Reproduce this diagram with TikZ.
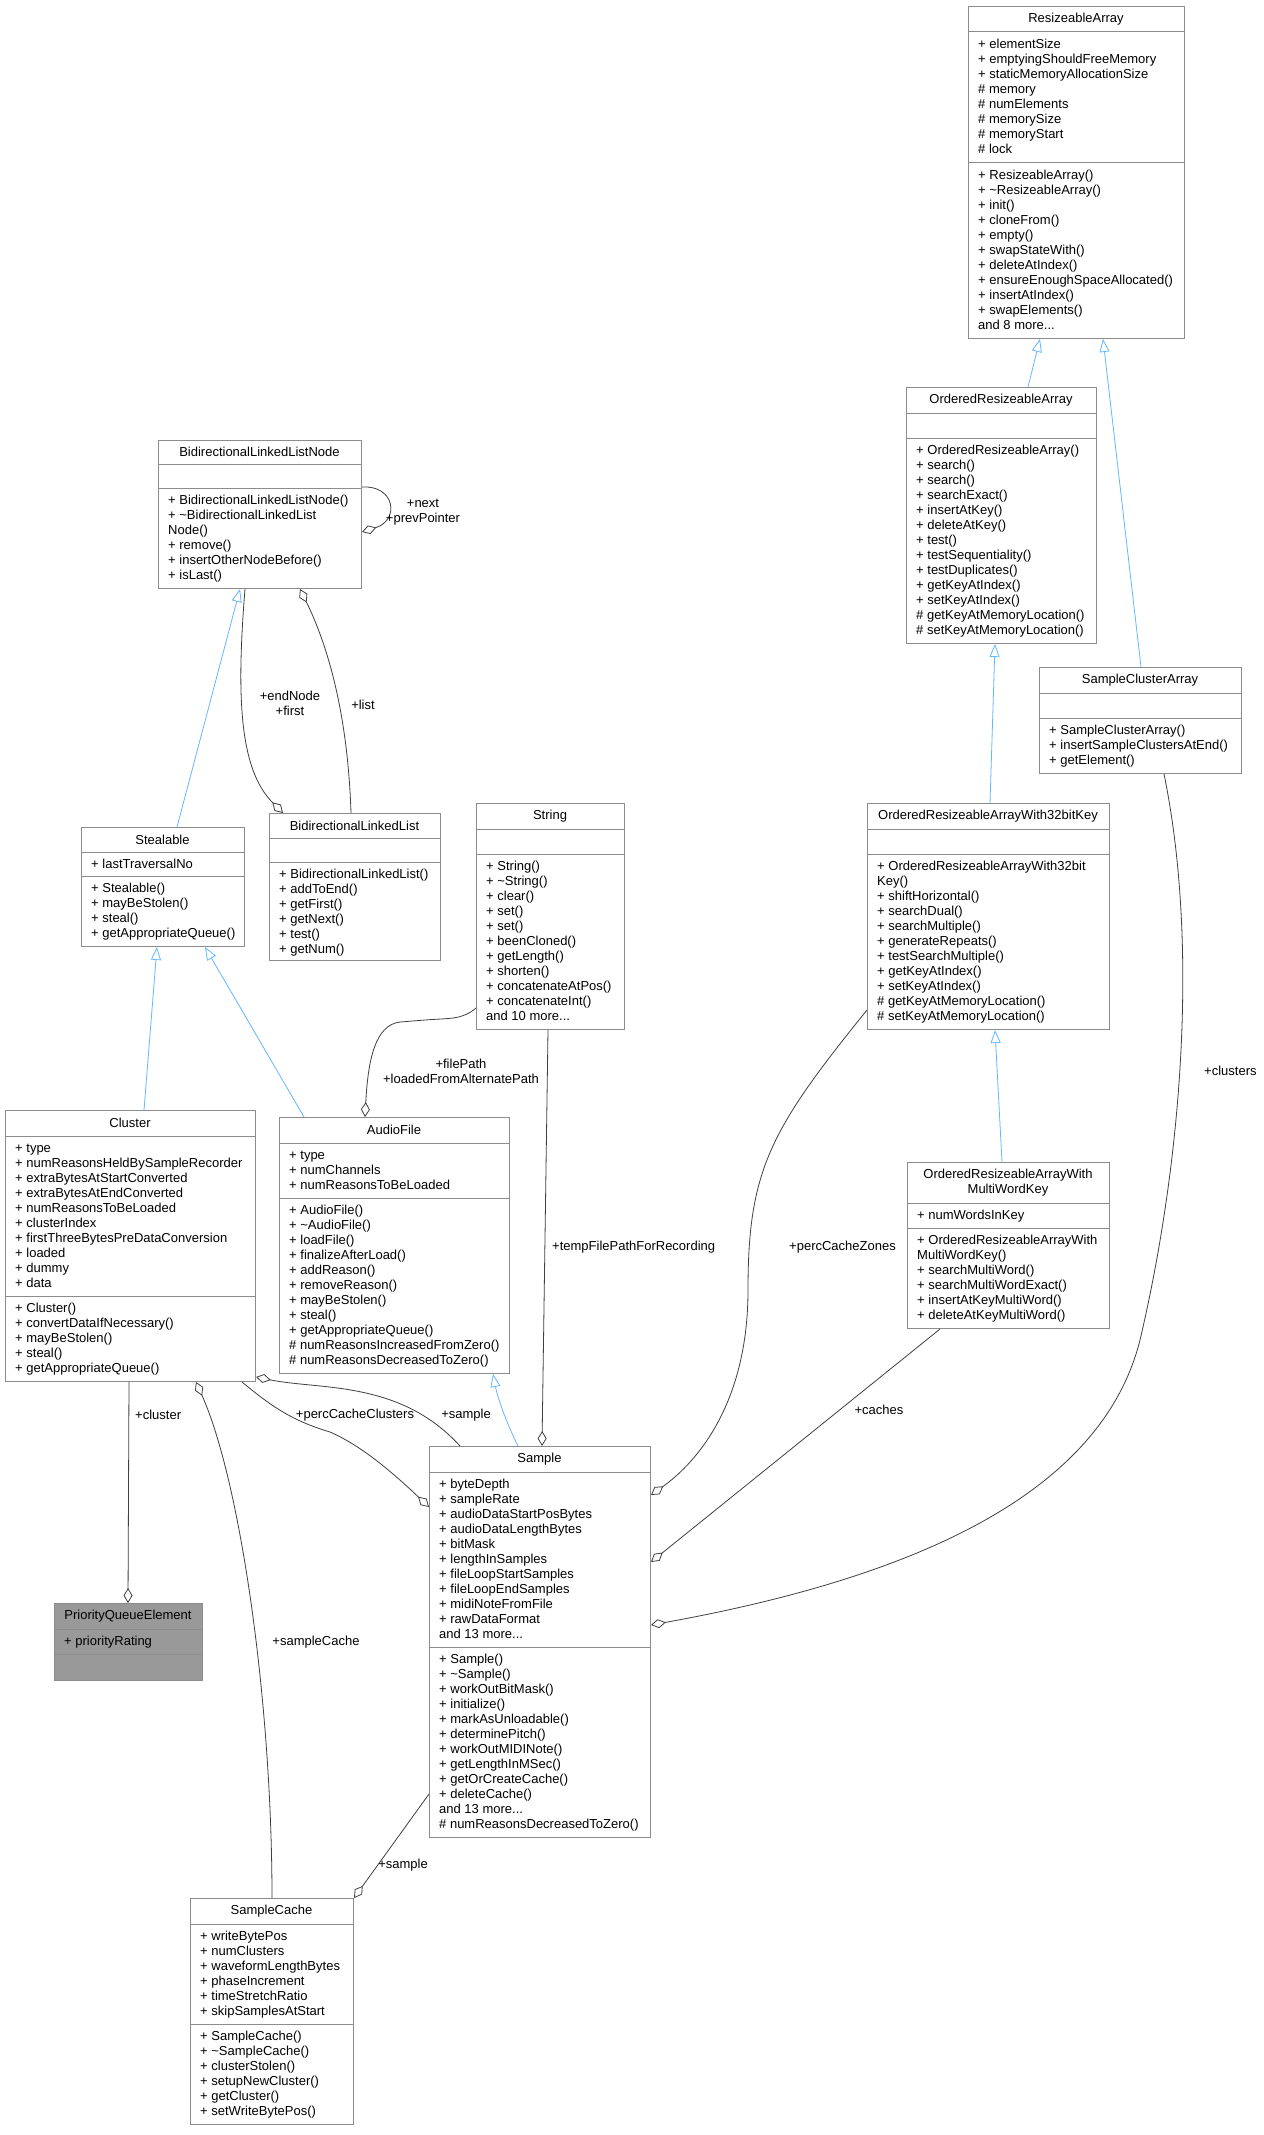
\documentclass[tikz,border=0pt]{standalone}
\usepackage{fontspec}
\setmainfont{Liberation Sans}
\usetikzlibrary{arrows.meta}
\definecolor{bordc}{HTML}{8C8C8C}
\definecolor{edgec}{HTML}{404040}
\definecolor{inhc}{HTML}{63B8FF}
\definecolor{pqfill}{HTML}{999999}
\newcommand\tld{{\char"7E}}
\tikzset{
  txt/.style={font=\fontsize{13}{15}\selectfont, inner sep=0pt, anchor=north west, align=left},
  ttl/.style={font=\fontsize{13}{15}\selectfont, inner sep=0pt, align=center},
  lbl/.style={font=\fontsize{13}{15}\selectfont, inner sep=0pt, align=center, text=black},
  inh/.style={draw=inhc, line width=0.8pt, -{Triangle[open,length=13pt,width=10pt]}},
  agg/.style={draw=edgec, line width=0.8pt, {Diamond[open,length=15pt,width=9pt]}-},
}
\newcommand\umlcls[9]{%
  \node[draw=bordc, line width=1pt, fill=#1, inner sep=0pt, anchor=north west,
        minimum width=#5pt-#3pt, minimum height=#6pt-#4pt] (#2) at (#3,#4) {};
  \draw[bordc, line width=1pt] (#3,#7) -- (#5,#7) (#3,#8) -- (#5,#8);
  \node[ttl] at ({(#3+#5)/2},{(#4+#7)/2}) {#9};
}
\begin{document}
\begin{tikzpicture}[x=1pt,y=-1pt]
\useasboundingbox[fill=white] (0,0) rectangle (1263,2135);

% ResizeableArray
\umlcls{white}{RA}{968}{6}{1184}{338}{32}{163}{ResizeableArray}
\node[txt] at (978,38) {\strut + elementSize\\+ emptyingShouldFreeMemory\\+ staticMemoryAllocationSize\\\# memory\\\# numElements\\\# memorySize\\\# memoryStart\\\# lock};
\node[txt] at (978,169) {\strut + ResizeableArray()\\+ \tld ResizeableArray()\\+ init()\\+ cloneFrom()\\+ empty()\\+ swapStateWith()\\+ deleteAtIndex()\\+ ensureEnoughSpaceAllocated()\\+ insertAtIndex()\\+ swapElements()\\and 8 more...};

% OrderedResizeableArray
\umlcls{white}{ORA}{906}{387}{1096}{643}{413}{438}{OrderedResizeableArray}
\node[txt] at (916,444) {\strut + OrderedResizeableArray()\\+ search()\\+ search()\\+ searchExact()\\+ insertAtKey()\\+ deleteAtKey()\\+ test()\\+ testSequentiality()\\+ testDuplicates()\\+ getKeyAtIndex()\\+ setKeyAtIndex()\\\# getKeyAtMemoryLocation()\\\# setKeyAtMemoryLocation()};

% SampleClusterArray
\umlcls{white}{SCA}{1039}{667}{1241}{773}{693}{718}{SampleClusterArray}
\node[txt] at (1049,724) {\strut + SampleClusterArray()\\+ insertSampleClustersAtEnd()\\+ getElement()};

% BidirectionalLinkedListNode
\umlcls{white}{BLLN}{158}{440}{361}{588}{464}{488}{BidirectionalLinkedListNode}
\node[txt] at (168,494) {\strut + BidirectionalLinkedListNode()\\+ \tld BidirectionalLinkedList\\Node()\\+ remove()\\+ insertOtherNodeBefore()\\+ isLast()};

% Stealable
\umlcls{white}{Steal}{81}{827}{244}{946}{852}{876}{Stealable}
\node[txt] at (91,858) {\strut + lastTraversalNo};
\node[txt] at (91,882) {\strut + Stealable()\\+ mayBeStolen()\\+ steal()\\+ getAppropriateQueue()};

% BidirectionalLinkedList
\umlcls{white}{BLL}{269}{813}{440}{960}{838}{862}{BidirectionalLinkedList}
\node[txt] at (279,868) {\strut + BidirectionalLinkedList()\\+ addToEnd()\\+ getFirst()\\+ getNext()\\+ test()\\+ getNum()};

% String
\umlcls{white}{String}{476}{803}{624}{1029}{829}{854}{String}
\node[txt] at (486,860) {\strut + String()\\+ \tld String()\\+ clear()\\+ set()\\+ set()\\+ beenCloned()\\+ getLength()\\+ shorten()\\+ concatenateAtPos()\\+ concatenateInt()\\and 10 more...};

% OrderedResizeableArrayWith32bitKey
\umlcls{white}{W32}{867}{803}{1109}{1029}{829}{854}{OrderedResizeableArrayWith32bitKey}
\node[txt] at (877,860) {\strut + OrderedResizeableArrayWith32bit\\Key()\\+ shiftHorizontal()\\+ searchDual()\\+ searchMultiple()\\+ generateRepeats()\\+ testSearchMultiple()\\+ getKeyAtIndex()\\+ setKeyAtIndex()\\\# getKeyAtMemoryLocation()\\\# setKeyAtMemoryLocation()};

% OrderedResizeableArrayWithMultiWordKey
\umlcls{white}{Multi}{907}{1162}{1109}{1328}{1203}{1228}{OrderedResizeableArrayWith\\MultiWordKey}
\node[txt] at (917,1209) {\strut + numWordsInKey};
\node[txt] at (917,1234) {\strut + OrderedResizeableArrayWith\\MultiWordKey()\\+ searchMultiWord()\\+ searchMultiWordExact()\\+ insertAtKeyMultiWord()\\+ deleteAtKeyMultiWord()};

% Cluster
\umlcls{white}{Cluster}{5}{1110}{255}{1381}{1136}{1296}{Cluster}
\node[txt] at (15,1142) {\strut + type\\+ numReasonsHeldBySampleRecorder\\+ extraBytesAtStartConverted\\+ extraBytesAtEndConverted\\+ numReasonsToBeLoaded\\+ clusterIndex\\+ firstThreeBytesPreDataConversion\\+ loaded\\+ dummy\\+ data};
\node[txt] at (15,1302) {\strut + Cluster()\\+ convertDataIfNecessary()\\+ mayBeStolen()\\+ steal()\\+ getAppropriateQueue()};

% AudioFile
\umlcls{white}{Audio}{279}{1117}{509}{1373}{1143}{1198}{AudioFile}
\node[txt] at (289,1149) {\strut + type\\+ numChannels\\+ numReasonsToBeLoaded};
\node[txt] at (289,1204) {\strut + AudioFile()\\+ \tld AudioFile()\\+ loadFile()\\+ finalizeAfterLoad()\\+ addReason()\\+ removeReason()\\+ mayBeStolen()\\+ steal()\\+ getAppropriateQueue()\\\# numReasonsIncreasedFromZero()\\\# numReasonsDecreasedToZero()};

% Sample
\umlcls{white}{Sample}{429}{1446}{650}{1837}{1472}{1647}{Sample}
\node[txt] at (439,1478) {\strut + byteDepth\\+ sampleRate\\+ audioDataStartPosBytes\\+ audioDataLengthBytes\\+ bitMask\\+ lengthInSamples\\+ fileLoopStartSamples\\+ fileLoopEndSamples\\+ midiNoteFromFile\\+ rawDataFormat\\and 13 more...};
\node[txt] at (439,1653) {\strut + Sample()\\+ \tld Sample()\\+ workOutBitMask()\\+ initialize()\\+ markAsUnloadable()\\+ determinePitch()\\+ workOutMIDINote()\\+ getLengthInMSec()\\+ getOrCreateCache()\\+ deleteCache()\\and 13 more...\\\# numReasonsDecreasedToZero()};

% PriorityQueueElement
\umlcls{pqfill}{PQE}{54}{1603}{202}{1680}{1629}{1654}{PriorityQueueElement}
\node[txt] at (64,1635) {\strut + priorityRating};

% SampleCache
\umlcls{white}{SCache}{190}{1898}{353}{2124}{1924}{2024}{SampleCache}
\node[txt] at (200,1930) {\strut + writeBytePos\\+ numClusters\\+ waveformLengthBytes\\+ phaseIncrement\\+ timeStretchRatio\\+ skipSamplesAtStart};
\node[txt] at (200,2030) {\strut + SampleCache()\\+ \tld SampleCache()\\+ clusterStolen()\\+ setupNewCluster()\\+ getCluster()\\+ setWriteBytePos()};

% ---- inheritance ----
\draw[inh] ([xshift=122pt]ORA.north west) -- ([xshift=72pt]RA.south west);
\draw[inh] ([xshift=102pt]SCA.north west) -- ([xshift=135pt]RA.south west);
\draw[inh] ([xshift=123pt]W32.north west) -- ([xshift=89pt]ORA.south west);
\draw[inh] ([xshift=95pt]Multi.north west) -- ([xshift=128pt]W32.south west);
\draw[inh] ([xshift=96pt]Steal.north west) -- ([xshift=82pt]BLLN.south west);
\draw[inh] ([xshift=139pt]Cluster.north west) -- ([xshift=76pt]Steal.south west);
\draw[inh] ([xshift=25pt]Audio.north west) -- ([xshift=124pt]Steal.south west);
\draw[inh] ([xshift=89pt]Sample.north west) .. controls (505,1420) and (497,1395) .. ([xshift=214pt]Audio.south west);

% ---- aggregations ----
\draw[agg] ([xshift=14pt]BLL.north west) .. controls (240,770) and (236,700) .. ([xshift=87pt]BLLN.south west);
\node[lbl] at (290,703) {+endNode\\+first};
\draw[agg] ([xshift=142pt]BLLN.south west) .. controls (330,650) and (348,720) .. ([xshift=82pt]BLL.north west);
\node[lbl] at (363,705) {+list};
\draw[agg] ([yshift=-92pt]BLLN.north east) .. controls (400,520) and (395,485) .. ([yshift=-47pt]BLLN.north east);
\node[lbl] at (423,512) {+next\\+prevPointer};

\draw[agg] ([xshift=86pt]Audio.north west) .. controls (368,1060) and (375,1025) .. (400,1022) -- (425,1020) .. controls (450,1018) and (462,1020) .. ([yshift=-205pt]String.north west);
\node[lbl] at (461,1071) {+filePath\\+loadedFromAlternatePath};

\draw[agg] ([xshift=113pt]Sample.north west) -- ([xshift=72pt]String.south west);
\node[lbl, anchor=west] at (552,1247) {+tempFilePathForRecording};

\draw[agg] ([yshift=-49pt]Sample.north east) .. controls (700,1460) and (748,1400) .. (748,1290) .. controls (748,1170) and (770,1130) .. ([yshift=-207pt]W32.north west);
\node[lbl, anchor=east] at (896,1247) {+percCacheZones};

\draw[agg] ([yshift=-116pt]Sample.north east) -- ([xshift=33pt]Multi.south west);
\node[lbl] at (879,1410) {+caches};

\draw[agg] ([yshift=-179pt]Sample.north east) .. controls (900,1580) and (1100,1500) .. (1140,1340) .. controls (1180,1170) and (1200,950) .. ([xshift=125pt]SCA.south west);
\node[lbl, anchor=west] at (1204,1071) {+clusters};

\draw[agg] ([yshift=-61pt]Sample.north west) .. controls (390,1470) and (360,1445) .. (330,1432) .. controls (290,1420) and (270,1405) .. ([xshift=237pt]Cluster.south west);
\node[lbl] at (355,1415) {+percCacheClusters};

\draw[agg] ([yshift=5pt]Cluster.south east) .. controls (320,1390) and (400,1380) .. ([xshift=31pt]Sample.north west);
\node[lbl] at (466,1415) {+sample};

\draw[agg] ([xshift=74pt]PQE.north west) -- ([xshift=124pt]Cluster.south west);
\node[lbl, anchor=west] at (135,1415) {+cluster};

\draw[agg] ([xshift=191pt]Cluster.south west) .. controls (240,1480) and (272,1700) .. ([xshift=82pt]SCache.north west);
\node[lbl] at (316,1642) {+sampleCache};

\draw[agg] (SCache.north east) -- ([yshift=44pt]Sample.south west);
\node[lbl] at (403,1865) {+sample};
\end{tikzpicture}
\end{document}
